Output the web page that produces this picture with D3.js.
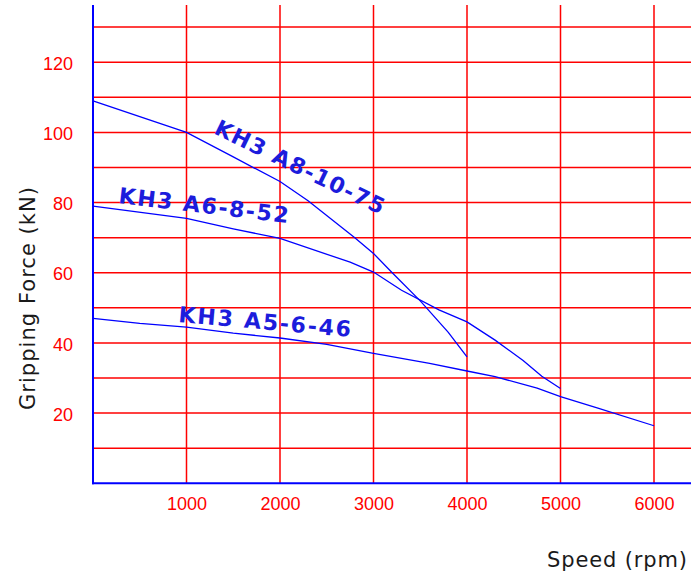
<!DOCTYPE html>
<html>
<head>
<meta charset="utf-8">
<script src="https://cdn.jsdelivr.net/npm/d3@7"></script>
<style>
  html, body { margin: 0; padding: 0; background: #fff; }
  svg { display: block; }
</style>
</head>
<body>
<svg id="chart" width="691" height="576"></svg>
<script>
// ---- data ----
const seriesNames = ["KH3 A8-10-75", "KH3 A6-8-52", "KH3 A5-6-46"];
const speedA8 = [0, 1000, 1500, 2000, 2300, 2800, 3000, 3200, 3500, 3800, 4000];
const forceA8 = [109, 100, 93, 86, 80.5, 70, 65.5, 60, 52, 43, 36];
const speedA6 = [0, 1000, 1500, 2000, 2750, 3000, 3300, 3700, 4000, 4300, 4600, 4800, 5000];
const forceA6 = [79, 75.5, 72.5, 69.8, 63, 60.2, 55, 49.4, 46, 40.8, 35, 30.5, 27];
const speedA5 = [0, 500, 1000, 1500, 2000, 2500, 3000, 3600, 4000, 4300, 4750, 5000, 5400, 6000];
const forceA5 = [47, 45.6, 44.5, 42.8, 41.4, 39.6, 37, 34.2, 32, 30.4, 27.1, 24.7, 21.4, 16.4];
const xTicks = [1000, 2000, 3000, 4000, 5000, 6000];
const yTickLabels = [20, 40, 60, 80, 100, 120];
const yGrid = [10, 20, 30, 40, 50, 60, 70, 80, 90, 100, 110, 120, 130];
// label anchors in data units (rpm, kN)
const labelSpeed = [1283, 267, 909];
const labelForce = [99.8, 79.9, 46.0];

// ---- layout ----
const W = 691, H = 576;
const svg = d3.select("#chart");
const x = d3.scaleLinear().domain([0, 6000]).range([93, 654]);
const y = d3.scaleLinear().domain([0, 136.3]).range([483.3, 5]);
const RED = "#ff0000", BLUE = "#0000ff";

// horizontal grid
svg.append("g").selectAll("line").data(yGrid).join("line")
  .attr("x1", x(0)).attr("x2", W)
  .attr("y1", d => y(d)).attr("y2", d => y(d))
  .attr("stroke", RED).attr("stroke-width", 1.5);
// vertical grid
svg.append("g").selectAll("line").data(xTicks).join("line")
  .attr("x1", d => x(d)).attr("x2", d => x(d))
  .attr("y1", y.range()[1]).attr("y2", y(0))
  .attr("stroke", RED).attr("stroke-width", 1.5);

// axes
const xAxis = d3.axisBottom(x).tickValues(xTicks).tickSize(0).tickFormat(d3.format("d"));
const gx = svg.append("g").attr("transform", `translate(0,${y(0)})`).call(xAxis);
gx.select(".domain").remove();
gx.selectAll("text").attr("fill", RED).attr("dy", null).attr("y", 27)
  .style("font-family", "'Liberation Sans', Arial, sans-serif").style("font-size", "18px");

const yAxis = d3.axisLeft(y).tickValues(yTickLabels).tickSize(0);
const gy = svg.append("g").attr("transform", `translate(${x(0)},0)`).call(yAxis);
gy.select(".domain").remove();
gy.selectAll("text").attr("fill", RED).attr("x", -20).attr("dy", "0.4em")
  .style("font-family", "'Liberation Sans', Arial, sans-serif").style("font-size", "18px");

svg.append("line").attr("x1", x(0)).attr("x2", x(0)).attr("y1", y.range()[1]).attr("y2", y(0) + 1)
  .attr("stroke", BLUE).attr("stroke-width", 2);
svg.append("line").attr("x1", x(0) - 1).attr("x2", W).attr("y1", y(0)).attr("y2", y(0))
  .attr("stroke", BLUE).attr("stroke-width", 2);

// series lines
const series = [
  speedA8.map((s, i) => [s, forceA8[i]]),
  speedA6.map((s, i) => [s, forceA6[i]]),
  speedA5.map((s, i) => [s, forceA5[i]])
];
const line = d3.line().x(d => x(d[0])).y(d => y(d[1]));
svg.append("g").selectAll("path").data(series).join("path")
  .attr("d", line).attr("fill", "none").attr("stroke", BLUE).attr("stroke-width", 1.3);

// series labels
const labelAngle = [26, 6.8, 5];
const labelLen = [186, 171, 173];
svg.append("g").selectAll("text").data(seriesNames).join("text")
  .attr("transform", (d, i) => `translate(${x(labelSpeed[i])},${y(labelForce[i])}) rotate(${labelAngle[i]})`)
  .attr("textLength", (d, i) => labelLen[i]).attr("lengthAdjust", "spacing")
  .attr("fill", "#1c1cdc")
  .style("font-family", "'DejaVu Sans', Verdana, sans-serif").style("font-size", "22px")
  .style("font-weight", "bold")
  .text(d => d);

// axis titles
svg.append("text").attr("x", 547).attr("y", 567).attr("textLength", 140).attr("lengthAdjust", "spacing")
  .attr("fill", "#1a1a1a").style("font-family", "'DejaVu Sans', Verdana, sans-serif").style("font-size", "21px")
  .text("Speed (rpm)");
svg.append("text").attr("transform", "translate(35,298.5) rotate(-90)").attr("text-anchor", "middle")
  .attr("textLength", 223).attr("lengthAdjust", "spacing")
  .attr("fill", "#1a1a1a").style("font-family", "'DejaVu Sans', Verdana, sans-serif").style("font-size", "21px")
  .text("Gripping Force (kN)");
</script>
</body>
</html>
